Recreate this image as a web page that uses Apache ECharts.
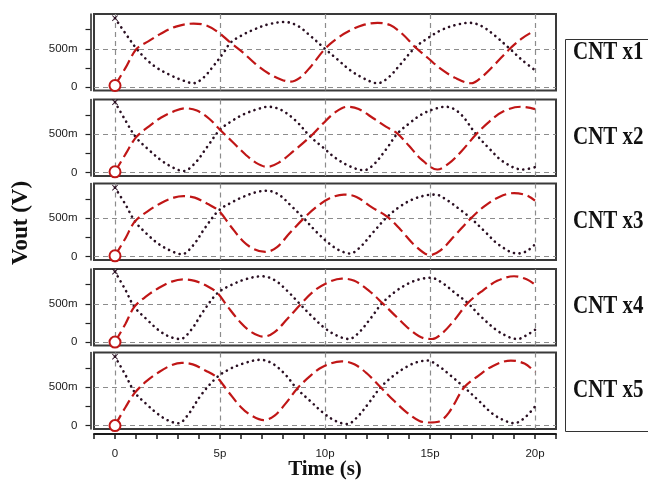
<!DOCTYPE html>
<html>
<head>
<meta charset="utf-8">
<title>Vout vs time, CNT x1..x5</title>
<script src="https://cdn.jsdelivr.net/npm/echarts@6.0.0/dist/echarts.min.js"></script>
<style>
html, body { margin: 0; padding: 0; background: #fff; }
#chart { width: 648px; height: 481px; }
</style>
</head>
<body>
<div id="chart"></div>
<script>
// right-hand panel labels
const panelNames = ['CNT x1', 'CNT x2', 'CNT x3', 'CNT x4', 'CNT x5'];

// time axis (ps)
const timeLabels = [0, 5, 10, 15, 20];
const timeTicks = [-1, 0, 1, 2, 3, 4, 5, 6, 7, 8, 9, 10, 11, 12, 13, 14, 15, 16, 17, 18, 19, 20, 21];
// voltage axis (V)
const voltTicks = [0, 0.25, 0.5, 0.75];
const voltLabels = [0, 0.5];

// dotted (dark) trace, [time ps, V]
const darkX1 = [[0, 0.9], [0.5, 0.7], [1.03, 0.5], [1.5, 0.36], [2.0, 0.25], [2.6, 0.16], [3.2, 0.09], [3.74, 0.05], [4.2, 0.12], [4.7, 0.28], [5.2, 0.46], [5.5, 0.58], [6.0, 0.67], [6.6, 0.75], [7.3, 0.82], [8.1, 0.85], [8.7, 0.8], [9.3, 0.67], [10.0, 0.5], [10.6, 0.36], [11.2, 0.22], [11.8, 0.12], [12.5, 0.05], [13.0, 0.12], [13.6, 0.3], [14.3, 0.52], [14.9, 0.64], [15.5, 0.74], [16.2, 0.81], [16.9, 0.84], [17.5, 0.79], [18.1, 0.67], [18.8, 0.5], [19.4, 0.35], [20.0, 0.22]];
const darkX2 = [[0, 0.92], [0.5, 0.68], [1.0, 0.46], [1.6, 0.3], [2.2, 0.16], [2.8, 0.06], [3.26, 0.02], [3.8, 0.12], [4.4, 0.34], [5.0, 0.56], [5.6, 0.68], [6.2, 0.77], [6.8, 0.83], [7.3, 0.86], [7.9, 0.82], [8.6, 0.68], [9.3, 0.47], [9.9, 0.33], [10.5, 0.19], [11.2, 0.08], [11.85, 0.03], [12.3, 0.1], [12.9, 0.3], [13.45, 0.51], [14.0, 0.64], [14.6, 0.76], [15.2, 0.83], [15.75, 0.86], [16.4, 0.78], [17.2, 0.5], [17.8, 0.32], [18.5, 0.14], [19.4, 0.04], [20.0, 0.07]];
const darkX3 = [[0, 0.9], [0.5, 0.68], [0.95, 0.46], [1.5, 0.3], [2.1, 0.16], [2.7, 0.07], [3.18, 0.03], [3.7, 0.14], [4.3, 0.38], [4.93, 0.6], [5.5, 0.7], [6.1, 0.78], [6.7, 0.84], [7.24, 0.86], [7.8, 0.81], [8.4, 0.66], [8.99, 0.5], [9.6, 0.32], [10.2, 0.17], [10.7, 0.08], [11.2, 0.04], [11.7, 0.13], [12.3, 0.32], [12.97, 0.52], [13.6, 0.66], [14.2, 0.75], [14.8, 0.8], [15.27, 0.81], [15.8, 0.74], [16.4, 0.62], [16.95, 0.5], [17.6, 0.33], [18.3, 0.15], [19.17, 0.04], [19.6, 0.07], [20.0, 0.16]];
const darkX4 = [[0, 0.92], [0.5, 0.68], [0.92, 0.46], [1.5, 0.3], [2.1, 0.15], [2.6, 0.07], [3.1, 0.04], [3.6, 0.15], [4.2, 0.4], [4.88, 0.64], [5.5, 0.74], [6.2, 0.82], [7.0, 0.86], [7.6, 0.81], [8.2, 0.67], [8.83, 0.49], [9.4, 0.33], [10.0, 0.18], [10.6, 0.08], [11.14, 0.04], [11.6, 0.12], [12.2, 0.32], [12.73, 0.51], [13.4, 0.67], [14.0, 0.77], [14.5, 0.82], [15.04, 0.84], [15.6, 0.77], [16.2, 0.64], [16.8, 0.51], [17.4, 0.34], [18.2, 0.15], [18.8, 0.06], [19.17, 0.04], [19.6, 0.09], [20.0, 0.16]];
const darkX5 = [[0, 0.9], [0.5, 0.66], [0.95, 0.43], [1.5, 0.28], [2.0, 0.16], [2.5, 0.07], [3.02, 0.03], [3.5, 0.15], [4.1, 0.4], [4.85, 0.63], [5.4, 0.73], [6.1, 0.81], [6.92, 0.86], [7.5, 0.81], [8.1, 0.67], [8.67, 0.48], [9.3, 0.32], [9.9, 0.17], [10.5, 0.06], [11.06, 0.02], [11.5, 0.1], [12.1, 0.3], [12.65, 0.5], [13.3, 0.66], [13.9, 0.77], [14.4, 0.83], [14.88, 0.85], [15.4, 0.78], [16.0, 0.65], [16.63, 0.5], [17.3, 0.33], [18.0, 0.15], [18.6, 0.06], [19.0, 0.03], [19.5, 0.1], [20.0, 0.25]];

// dashed (red) trace, [time ps, V]
const redX1 = [[0, 0.02], [0.5, 0.25], [1.03, 0.5], [1.6, 0.6], [2.2, 0.7], [2.9, 0.79], [3.74, 0.83], [4.3, 0.81], [4.9, 0.72], [5.5, 0.58], [6.1, 0.45], [6.7, 0.3], [7.3, 0.18], [7.9, 0.1], [8.35, 0.07], [8.8, 0.12], [9.3, 0.26], [10.0, 0.5], [10.6, 0.64], [11.2, 0.74], [11.8, 0.81], [12.5, 0.84], [13.1, 0.81], [13.7, 0.69], [14.3, 0.52], [14.9, 0.38], [15.5, 0.24], [16.2, 0.12], [16.95, 0.05], [17.5, 0.14], [18.1, 0.3], [18.8, 0.5], [19.4, 0.64], [20.0, 0.74]];
const redX2 = [[0, 0.01], [0.5, 0.24], [1.0, 0.46], [1.6, 0.6], [2.2, 0.72], [2.8, 0.8], [3.34, 0.84], [3.9, 0.81], [4.5, 0.7], [5.0, 0.56], [5.6, 0.4], [6.2, 0.24], [6.7, 0.13], [7.24, 0.075], [7.8, 0.13], [8.5, 0.28], [9.3, 0.47], [9.9, 0.64], [10.5, 0.79], [11.06, 0.86], [11.6, 0.83], [12.3, 0.71], [12.9, 0.6], [13.45, 0.51], [14.0, 0.35], [14.6, 0.17], [15.35, 0.04], [15.9, 0.12], [16.5, 0.28], [17.2, 0.5], [17.8, 0.66], [18.5, 0.8], [19.33, 0.86], [20.0, 0.83]];
const redX3 = [[0, 0.01], [0.5, 0.24], [0.95, 0.46], [1.6, 0.6], [2.2, 0.7], [2.8, 0.77], [3.26, 0.79], [3.8, 0.77], [4.4, 0.69], [4.93, 0.6], [5.5, 0.4], [6.1, 0.2], [6.6, 0.1], [7.16, 0.06], [7.7, 0.12], [8.3, 0.3], [8.99, 0.5], [9.6, 0.65], [10.2, 0.76], [10.9, 0.81], [11.5, 0.78], [12.2, 0.65], [12.97, 0.52], [13.6, 0.35], [14.3, 0.14], [15.0, 0.02], [15.5, 0.08], [16.2, 0.28], [16.95, 0.5], [17.6, 0.66], [18.3, 0.78], [19.0, 0.83], [19.6, 0.8], [20.0, 0.73]];
const redX4 = [[0, 0.0], [0.5, 0.24], [0.92, 0.46], [1.5, 0.6], [2.1, 0.71], [2.7, 0.79], [3.26, 0.82], [3.8, 0.8], [4.4, 0.73], [4.88, 0.64], [5.4, 0.45], [6.0, 0.25], [6.5, 0.13], [7.08, 0.07], [7.6, 0.13], [8.2, 0.3], [8.83, 0.49], [9.4, 0.65], [10.0, 0.76], [10.8, 0.83], [11.4, 0.8], [12.1, 0.67], [12.73, 0.51], [13.4, 0.33], [14.1, 0.15], [14.7, 0.05], [15.1, 0.04], [15.6, 0.12], [16.2, 0.3], [16.8, 0.51], [17.5, 0.67], [18.2, 0.8], [19.0, 0.86], [19.6, 0.82], [20.0, 0.75]];
const redX5 = [[0, 0.0], [0.5, 0.24], [0.95, 0.43], [1.5, 0.58], [2.1, 0.7], [2.7, 0.79], [3.18, 0.82], [3.7, 0.8], [4.3, 0.72], [4.85, 0.63], [5.4, 0.44], [6.0, 0.24], [6.5, 0.13], [7.08, 0.07], [7.6, 0.13], [8.1, 0.28], [8.67, 0.48], [9.3, 0.65], [9.9, 0.77], [10.8, 0.84], [11.4, 0.8], [12.0, 0.68], [12.65, 0.5], [13.3, 0.32], [13.9, 0.17], [14.5, 0.06], [15.0, 0.04], [15.4, 0.05], [15.9, 0.17], [16.63, 0.5], [17.3, 0.65], [18.0, 0.78], [18.85, 0.85], [19.5, 0.81], [20.0, 0.7]];

const darkTraces = [darkX1, darkX2, darkX3, darkX4, darkX5];
const redTraces = [redX1, redX2, redX3, redX4, redX5];

const DARK = '#2a0f22';
const RED = '#c01616';
const GRID_LINE = { show: true, lineStyle: { color: '#8c8c8c', width: 1.2, type: [5, 4] } };
const panelTop = [14, 99.5, 183.5, 269, 352.5];
const panelH = 76.5;
const vMin = -0.045, vMax = 0.955;

const chart = echarts.init(document.getElementById('chart'));

const grids = [], xAxes = [], yAxes = [], series = [];
panelTop.forEach((top, i) => {
  grids.push({ left: 94, width: 462, top: top, height: panelH, show: true, borderColor: '#3a3a3a', borderWidth: 2 });
  // vertical dashed grid lines only
  xAxes.push({
    gridIndex: i, type: 'value', min: -1, max: 21,
    axisLine: { show: false, onZero: false }, axisTick: { show: false, customValues: timeLabels },
    axisLabel: { show: false }, splitLine: GRID_LINE
  });
  // visible voltage axis, just outside the panel box
  yAxes.push({
    gridIndex: i, type: 'value', min: vMin, max: vMax, offset: 3.5,
    axisLine: { show: true, onZero: false, lineStyle: { color: '#222', width: 1.5 } },
    axisTick: { show: true, customValues: voltTicks, length: 5, lineStyle: { color: '#222', width: 1.2 } },
    axisLabel: { customValues: voltLabels, margin: 13, fontSize: 11.5, color: '#1a1a1a', fontFamily: 'Liberation Sans',
      formatter: v => v === 0 ? '0' : Math.round(v * 1000) + 'm' },
    splitLine: { show: false }
  });
  // horizontal dashed grid lines at 0 and 500m
  yAxes.push({
    gridIndex: i, type: 'value', min: vMin, max: vMax, position: 'left',
    axisLine: { show: false, onZero: false }, axisTick: { show: false, customValues: voltLabels },
    axisLabel: { show: false }, splitLine: GRID_LINE
  });

  series.push({
    type: 'line', xAxisIndex: i, yAxisIndex: 2 * i, smooth: 0.35, symbol: 'none',
    lineStyle: { color: DARK, width: 2.6, type: [0.1, 5.5], cap: 'round' },
    data: darkTraces[i].map((p, k) => k === 0 ? {
      value: p, symbol: 'path://M0,1L1,0L5,4L9,0L10,1L6,5L10,9L9,10L5,6L1,10L0,9L4,5Z', symbolSize: 6,
      itemStyle: { color: DARK }
    } : p)
  });
  series.push({
    type: 'line', xAxisIndex: i, yAxisIndex: 2 * i, smooth: 0.35, symbol: 'none',
    lineStyle: { color: RED, width: 2.2, type: [12, 5] },
    data: redTraces[i].map((p, k) => k === 0 ? {
      value: p, symbol: 'emptyCircle', symbolSize: 11,
      itemStyle: { color: RED, borderColor: RED, borderWidth: 1.8 }
    } : p)
  });
});

// shared time axis under the last panel
xAxes.push({
  gridIndex: 4, type: 'value', min: -1, max: 21, offset: 5, position: 'bottom',
  axisLine: { show: true, onZero: false, lineStyle: { color: '#1a1a1a', width: 2 } },
  axisTick: { show: true, customValues: timeTicks, length: 5, lineStyle: { color: '#1a1a1a', width: 1.5 } },
  axisLabel: { customValues: timeLabels, margin: 14, fontSize: 11.5, color: '#1a1a1a', fontFamily: 'Liberation Sans',
    formatter: v => v === 0 ? '0' : v + 'p' },
  splitLine: { show: false }
});

const labelY = [53, 138, 222, 307, 391];
const graphics = [
  { type: 'text', x: 21, y: 223, rotation: Math.PI / 2,
    style: { text: 'Vout (V)', font: 'bold 23px "Liberation Serif"', fill: '#111', align: 'center', verticalAlign: 'middle' } },
  { type: 'text', x: 325, y: 470,
    style: { text: 'Time (s)', font: 'bold 21px "Liberation Serif"', fill: '#111', align: 'center', verticalAlign: 'middle' } },
  { type: 'rect', shape: { x: 565.5, y: 39.5, width: 100, height: 392 },
    style: { fill: 'none', stroke: '#333', lineWidth: 1 } }
];
panelNames.forEach((name, i) => {
  graphics.push({ type: 'text', x: 573, y: labelY[i], scaleY: 1.15,
    style: { text: name, font: 'bold 21px "Liberation Serif"', fill: '#111', align: 'left', verticalAlign: 'middle' } });
});

chart.setOption({
  animation: false,
  backgroundColor: '#fff',
  grid: grids,
  xAxis: xAxes,
  yAxis: yAxes,
  series: series,
  graphic: graphics
});
</script>
</body>
</html>
